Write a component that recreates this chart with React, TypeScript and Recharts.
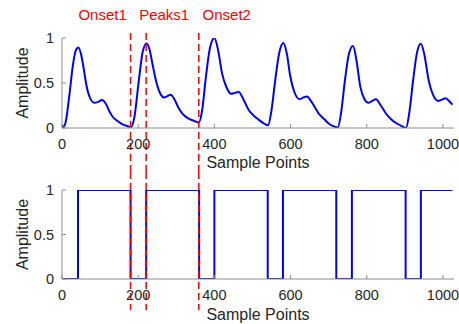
import { LineChart, Line, XAxis, YAxis, ReferenceLine } from "recharts";

// waveform samples
const ppgX = [
  0, 8, 19, 28, 36, 43, 50, 57, 63, 72, 85, 95, 105, 115, 125, 133, 145, 159, 172, 181,
  190, 202, 212, 222, 230, 238, 246, 256, 268, 277, 285, 295, 305, 316, 330, 346, 359,
  368, 377, 388, 400, 410, 420, 432, 444, 454, 464, 476, 490, 505, 517, 530, 541,
  550, 560, 570, 581, 590, 599, 610, 624, 634, 643, 655, 674, 688, 700, 712, 724,
  733, 743, 753, 764, 773, 783, 794, 804, 814, 824, 837, 853, 866, 879, 892, 903,
  912, 922, 932, 942, 951, 962, 975, 988, 997, 1007, 1016, 1025,
];
const ppgY = [
  0, 0.04, 0.35, 0.68, 0.86, 0.895, 0.82, 0.66, 0.5, 0.35, 0.28, 0.29, 0.31, 0.27, 0.18, 0.125, 0.08, 0.04, 0.02, 0.01,
  0.12, 0.54, 0.85, 0.94, 0.87, 0.7, 0.54, 0.4, 0.34, 0.355, 0.37, 0.32, 0.23, 0.16, 0.11, 0.08, 0.06,
  0.2, 0.54, 0.88, 1.0, 0.86, 0.61, 0.45, 0.38, 0.39, 0.4, 0.32, 0.2, 0.13, 0.09, 0.05, 0.03,
  0.2, 0.54, 0.83, 0.945, 0.83, 0.58, 0.4, 0.32, 0.34, 0.35, 0.29, 0.16, 0.1, 0.05, 0.02, 0.005,
  0.18, 0.54, 0.82, 0.91, 0.75, 0.46, 0.32, 0.28, 0.3, 0.32, 0.25, 0.145, 0.09, 0.05, 0.02, 0,
  0.18, 0.54, 0.84, 0.935, 0.82, 0.54, 0.36, 0.3, 0.315, 0.33, 0.3, 0.26,
];

// onset-to-peak gating signal (lower panel)
const stateX = [0, 42, 180, 221, 360, 400, 540, 580, 720, 761, 902, 942, 1025];
const stateY = [0, 1, 0, 1, 0, 1, 0, 1, 0, 1, 0, 1, 1];

const markerX = [180, 221, 359];
const markerNames = ["Onset1", "Peaks1", "Onset2"];

const xTicks = [0, 200, 400, 600, 800, 1000];
const yTicks = [0, 0.5, 1];
const X_MAX = 1029;

const ppgData = ppgX.map((x, i) => ({ x, y: ppgY[i] }));
const stateData = stateX.map((x, i) => ({ x, y: stateY[i] }));

const FONT = "'Liberation Sans', Arial, sans-serif";
const AXIS = "#8c8c8c";
const TEXT = "#262626";
const labelDx = [-28, 18, 28];

function Panel(props: {
  height: number;
  top: number;
  axisHeight: number;
  data: { x: number; y: number }[];
  step?: boolean;
  lineUp: number;
  lineDown: number;
  showNames?: boolean;
}) {
  const { height, top, axisHeight, data, step, lineUp, lineDown, showNames } = props;
  return (
    <LineChart
      width={459}
      height={height}
      margin={{ top, right: 5, bottom: 0, left: 0 }}
      style={{ fontFamily: FONT }}
    >
      <XAxis
        xAxisId="b"
        dataKey="x"
        type="number"
        domain={[0, X_MAX]}
        ticks={xTicks}
        interval={0}
        allowDataOverflow
        height={axisHeight}
        tickSize={-4}
        tickMargin={15}
        stroke={AXIS}
        tick={{ fill: TEXT, fontSize: 14.5 }}
        label={{
          value: "Sample Points",
          content: ({ viewBox }: any) => (
            <text
              x={viewBox.x + viewBox.width / 2}
              y={viewBox.y + viewBox.height - 4}
              textAnchor="middle"
              fill={TEXT}
              fontSize={16}
            >
              Sample Points
            </text>
          ),
        }}
      />
      <XAxis
        xAxisId="t"
        orientation="top"
        type="number"
        domain={[0, X_MAX]}
        ticks={xTicks}
        interval={0}
        allowDataOverflow
        height={0}
        tickSize={-4}
        tick={false}
        stroke={AXIS}
      />
      <YAxis
        yAxisId="l"
        type="number"
        domain={[0, 1]}
        ticks={yTicks}
        interval={0}
        allowDataOverflow
        width={62}
        tickSize={-4}
        tickMargin={12}
        stroke={AXIS}
        tick={{ fill: TEXT, fontSize: 14.5 }}
        label={{
          value: "Amplitude",
          content: ({ viewBox }: any) => {
            const cy = viewBox.y + viewBox.height / 2;
            return (
              <text
                x={22}
                y={cy}
                transform={`rotate(-90, 22, ${cy})`}
                textAnchor="middle"
                dominantBaseline="central"
                fill={TEXT}
                fontSize={16}
              >
                Amplitude
              </text>
            );
          },
        }}
      />
      <YAxis
        yAxisId="r"
        orientation="right"
        type="number"
        domain={[0, 1]}
        ticks={yTicks}
        interval={0}
        width={0}
        tickSize={-4}
        tick={false}
        stroke={AXIS}
      />
      <Line
        xAxisId="b"
        yAxisId="l"
        data={data}
        dataKey="y"
        type={step ? "stepAfter" : "monotone"}
        stroke="#0000ff"
        strokeWidth={2}
        dot={false}
        isAnimationActive={false}
      />
      {markerX.map((mx, i) => (
        <ReferenceLine
          key={mx}
          xAxisId="b"
          yAxisId="l"
          x={mx}
          shape={(p: any) => {
            const y0 = Math.min(p.y1, p.y2) - lineUp;
            const y1 = Math.max(p.y1, p.y2) + lineDown;
            return (
              <g>
                <line
                  x1={p.x1}
                  x2={p.x1}
                  y1={y0}
                  y2={y1}
                  stroke="#ff0000"
                  strokeWidth={1.5}
                  strokeDasharray="7 4"
                />
                {showNames && (
                  <text
                    x={p.x1 + labelDx[i]}
                    y={20}
                    textAnchor="middle"
                    fill="#ff0000"
                    fontSize={15}
                  >
                    {markerNames[i]}
                  </text>
                )}
              </g>
            );
          }}
        />
      ))}
    </LineChart>
  );
}

export default function App() {
  return (
    <div
      style={{
        position: "absolute",
        left: 0,
        top: 0,
        width: 459,
        height: 324,
        background: "#fff",
        fontFamily: FONT,
      }}
    >
      <Panel
        height={172}
        top={38}
        axisHeight={44}
        data={ppgData}
        lineUp={5}
        lineDown={44}
        showNames
      />
      <Panel
        height={152}
        top={18}
        axisHeight={45}
        data={stateData}
        step
        lineUp={18}
        lineDown={31}
      />
    </div>
  );
}
